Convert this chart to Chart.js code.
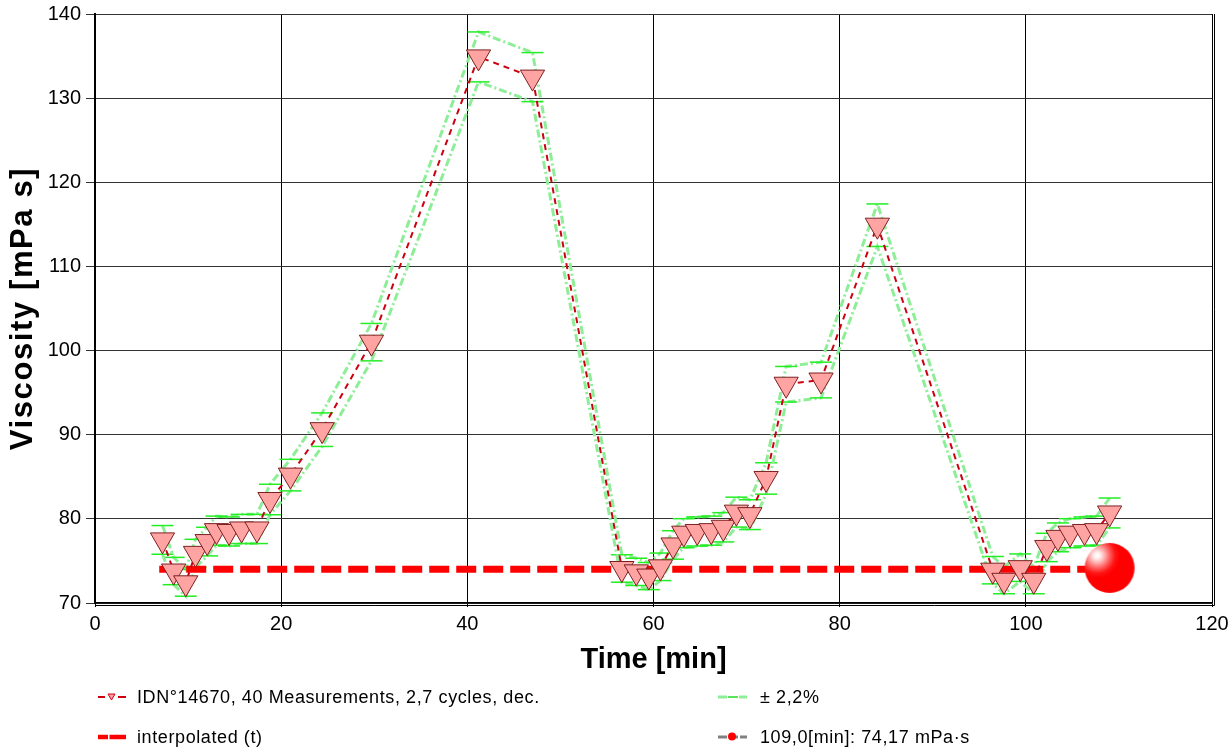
<!DOCTYPE html>
<html>
<head>
<meta charset="utf-8">
<script src="https://cdn.jsdelivr.net/npm/chart.js@4.4.1/dist/chart.umd.min.js"></script>
<style>
  html, body { margin: 0; padding: 0; background: #fff; }
  #wrap { position: relative; width: 1232px; height: 752px; overflow: hidden; }
  canvas { position: absolute; left: 0; top: 0; }
  .lg { position: absolute; font-family: "Liberation Sans", Arial, sans-serif; font-size: 18px; color: #000; letter-spacing: 0.6px; line-height: 20px; white-space: nowrap; }
  .sym { position: absolute; }
</style>
</head>
<body>
<div id="wrap">
  <canvas id="c" width="1232" height="752"></canvas>
  <svg class="sym" style="left:96px;top:689px" width="32" height="16">
    <line x1="2" y1="8" x2="9" y2="8" stroke="#cc0011" stroke-width="2"/>
    <line x1="22" y1="8" x2="30" y2="8" stroke="#cc0011" stroke-width="2"/>
    <polygon points="12,5 19,5 15.5,11" fill="#ffa3a3" stroke="#cc0011" stroke-width="1"/>
  </svg>
  <div class="lg" style="left:137px;top:687px">IDN°14670, 40 Measurements, 2,7 cycles, dec.</div>
  <svg class="sym" style="left:96px;top:729px" width="32" height="16">
    <line x1="2" y1="8" x2="12" y2="8" stroke="#ff0000" stroke-width="4.5"/>
    <line x1="13.5" y1="8" x2="30" y2="8" stroke="#ff0000" stroke-width="4.5"/>
  </svg>
  <div class="lg" style="left:137px;top:727px">interpolated (t)</div>
  <svg class="sym" style="left:716px;top:689px" width="34" height="16">
    <line x1="2" y1="8" x2="11" y2="8" stroke="#8eee98" stroke-width="3"/>
    <line x1="12" y1="8" x2="22" y2="8" stroke="#22dd22" stroke-width="1.5"/>
    <line x1="23" y1="8" x2="31" y2="8" stroke="#8eee98" stroke-width="3"/>
  </svg>
  <div class="lg" style="left:760px;top:687px">± 2,2%</div>
  <svg class="sym" style="left:716px;top:729px" width="34" height="16">
    <line x1="2" y1="8" x2="31" y2="8" stroke="#808080" stroke-width="3" stroke-dasharray="9,2"/>
    <circle cx="16" cy="7.5" r="4" fill="#ff0000"/>
  </svg>
  <div class="lg" style="left:760px;top:727px">109,0[min]: 74,17 mPa·s</div>
</div>
<script>
// ---- data ----
const TIME = [7.25, 8.45, 9.75, 10.8, 12.05, 13.05, 14.4, 15.75, 17.4, 18.8,
              21.0, 24.4, 29.7, 41.2, 47.0, 56.6, 58.15, 59.5, 60.75, 62.1,
              63.25, 64.7, 66.2, 67.5, 68.9, 70.35, 72.1, 74.25, 78.0, 84.05,
              96.45, 97.65, 99.4, 100.85, 102.25, 103.45, 104.75, 106.3, 107.6, 109.0];
const VISCOSITY = [77.5, 73.8, 72.4, 75.9, 77.3, 78.6, 78.5, 78.8, 78.8, 82.3,
                   85.2, 90.6, 101.0, 134.9, 132.5, 74.1, 73.7, 73.2, 74.3, 76.9,
                   78.3, 78.5, 78.6, 79.0, 80.8, 80.5, 84.8, 96.0, 96.5, 114.9,
                   73.9, 72.7, 74.2, 72.7, 76.6, 77.8, 78.3, 78.5, 78.6, 80.7];
const TOLERANCE = 0.022; // ± 2,2%
const INTERP_X = [6.9, 109.0];
const INTERP_Y = [74.0, 74.0];
const BALL_X = [109.0];
const BALL_Y = [74.17];
const X_TICKS = [0, 20, 40, 60, 80, 100, 120];
const Y_TICKS = [70, 80, 90, 100, 110, 120, 130, 140];

const pts = (xs, ys) => xs.map((x, i) => ({x: x, y: ys[i]}));
const UPPER = VISCOSITY.map(v => v * (1 + TOLERANCE));
const LOWER = VISCOSITY.map(v => v * (1 - TOLERANCE));

// shaded sphere marker
function makeBall(r) {
  const c = document.createElement('canvas');
  c.width = c.height = 2 * r + 2;
  const g = c.getContext('2d');
  const cx = r + 1, cy = r + 1;
  const hx = cx - r * 0.5, hy = cy - r * 0.5;
  const grad = g.createRadialGradient(hx, hy, 0, hx, hy, r * 1.2);
  grad.addColorStop(0, '#ffffff');
  grad.addColorStop(0.1, '#fff0f0');
  grad.addColorStop(0.25, '#ffb0b0');
  grad.addColorStop(0.42, '#ff6060');
  grad.addColorStop(0.6, '#ff1515');
  grad.addColorStop(0.75, '#ff0000');
  grad.addColorStop(1, '#ff0000');
  g.fillStyle = grad;
  g.beginPath(); g.arc(cx, cy, r, 0, Math.PI * 2); g.fill();
  return c;
}

const FONT = '"Liberation Sans", Arial, sans-serif';

const framePlugin = {
  id: 'frame',
  afterLayout(chart) {
    const y = chart.scales.y;
    if (!y._spacedTitle) {
      const orig = Object.getPrototypeOf(y).drawTitle;
      y.drawTitle = function () {
        const ctx = this.ctx;
        ctx.save();
        ctx.letterSpacing = '1.6px';
        orig.call(this);
        ctx.restore();
      };
      y._spacedTitle = true;
    }
  },
  afterDatasetsDraw(chart) {
    const {ctx, chartArea: a} = chart;
    ctx.save();
    ctx.strokeStyle = '#000';
    ctx.lineWidth = 1;
    ctx.beginPath();
    ctx.moveTo(a.left, Math.round(a.bottom) + 2.5);
    ctx.lineTo(Math.round(a.right) + 2.5, Math.round(a.bottom) + 2.5);
    ctx.lineTo(Math.round(a.right) + 2.5, a.top);
    ctx.stroke();
    ctx.restore();
  }
};

new Chart(document.getElementById('c'), {
  type: 'scatter',
  data: {
    datasets: [
      {
        label: 'IDN°14670, 40 Measurements, 2,7 cycles, dec.',
        data: pts(TIME, VISCOSITY),
        showLine: true,
        borderColor: '#cc0011',
        borderWidth: 2,
        borderDash: [6, 5],
        pointStyle: 'triangle',
        pointRotation: 180,
        pointRadius: 14,
        pointBackgroundColor: '#ffa3a3',
        pointBorderColor: '#7b2020',
        pointBorderWidth: 1,
        order: 2
      },
      {
        label: '± 2,2% upper',
        data: pts(TIME, UPPER),
        showLine: true,
        borderColor: '#8eee98',
        borderWidth: 3,
        borderDash: [8, 3, 2, 3],
        pointStyle: 'line',
        pointRadius: 11,
        pointBorderColor: '#22ee22',
        pointBorderWidth: 1.5,
        order: 6
      },
      {
        label: '± 2,2% lower',
        data: pts(TIME, LOWER),
        showLine: true,
        borderColor: '#8eee98',
        borderWidth: 3,
        borderDash: [8, 3, 2, 3],
        pointStyle: 'line',
        pointRadius: 11,
        pointBorderColor: '#22ee22',
        pointBorderWidth: 1.5,
        order: 5
      },
      {
        label: 'interpolated (t)',
        data: pts(INTERP_X, INTERP_Y),
        showLine: true,
        borderColor: '#ff0000',
        borderWidth: 7,
        borderDash: [20, 7],
        pointRadius: 0,
        order: 4
      },
      {
        label: '109,0[min]: 74,17 mPa·s',
        data: pts(BALL_X, BALL_Y),
        showLine: false,
        pointStyle: makeBall(25),
        pointRadius: 25,
        order: 1
      }
    ]
  },
  options: {
    responsive: false,
    animation: false,
    devicePixelRatio: 1,
    layout: { autoPadding: false, padding: { left: 0, top: 14, right: 20, bottom: 77 } },
    plugins: { legend: { display: false }, tooltip: { enabled: false } },
    scales: {
      x: {
        type: 'linear',
        min: X_TICKS[0],
        max: X_TICKS[X_TICKS.length - 1],
        afterBuildTicks: s => { s.ticks = X_TICKS.map(v => ({value: v})); },
        afterFit: s => { s.height = 72; s.paddingLeft = 0; s.paddingRight = 0; },
        grid: { color: '#000', lineWidth: 1, tickLength: 4, drawTicks: true },
        border: { color: '#000', width: 1.5 },
        ticks: { color: '#000', font: { family: FONT, size: 20 }, padding: 5, maxRotation: 0 },
        title: { display: true, text: 'Time [min]', color: '#000',
                 font: { family: FONT, size: 29, weight: 'bold', lineHeight: 1 },
                 padding: { top: 0, bottom: 1 } }
      },
      y: {
        type: 'linear',
        min: Y_TICKS[0],
        max: Y_TICKS[Y_TICKS.length - 1],
        afterBuildTicks: s => { s.ticks = Y_TICKS.map(v => ({value: v})); },
        afterFit: s => { s.width = 95; s.paddingTop = 0; s.paddingBottom = 0; },
        grid: { color: '#333', lineWidth: 1, tickLength: 9 },
        border: { color: '#000', width: 2 },
        ticks: { color: '#000', font: { family: FONT, size: 20 }, padding: 5 },
        title: { display: true, text: 'Viscosity [mPa s]', color: '#000',
                 font: { family: FONT, size: 31, weight: 'bold', lineHeight: 1 },
                 padding: { top: 8, bottom: 0 } }
      }
    }
  },
  plugins: [framePlugin]
});
</script>
</body>
</html>
